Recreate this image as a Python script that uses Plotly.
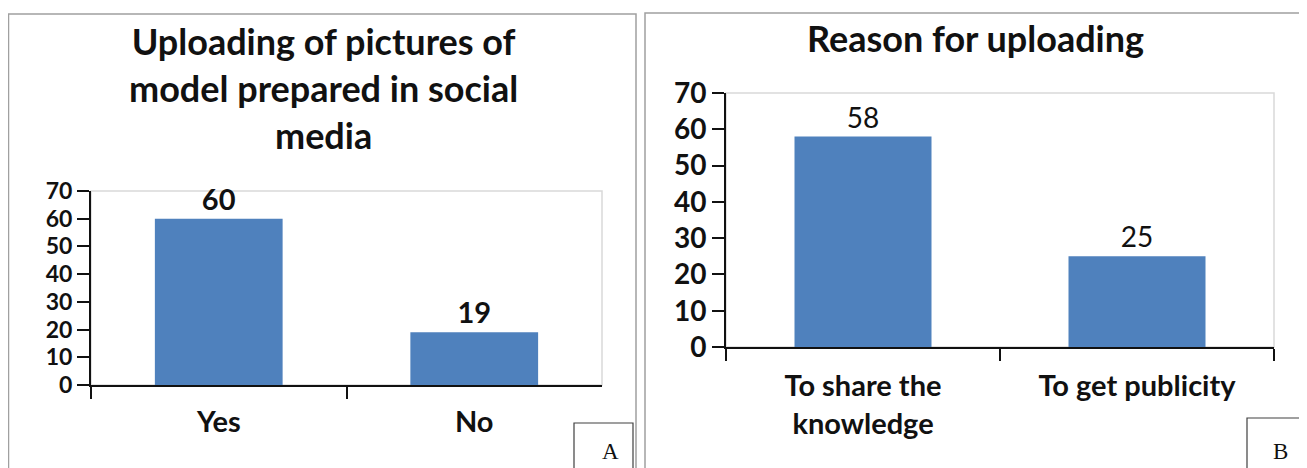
import plotly.graph_objects as go

# The page body has an 8px default margin, so the figure starts at (8, 8)
# inside the 1307x468 window; positions below are window pixels.
OFF = 8
W, H = 1307 - OFF, 468 - OFF

# ---- data ----
cats_a = ["Yes", "No"]
vals_a = [60, 19]
title_a = "Uploading of pictures of<br>model prepared in social<br>media"

cats_b = ["To share the<br>knowledge", "To get publicity"]
vals_b = [58, 25]
title_b = "Reason for uploading"

y_ticks = [0, 10, 20, 30, 40, 50, 60, 70]

BAR = "#4f81bd"
FONT = "Lato"

def px_x(p):
    return (p - OFF) / W

def px_y(p):
    return 1 - (p - OFF) / H

fig = go.Figure()

fig.add_trace(go.Bar(
    x=cats_a, y=vals_a, width=0.5, marker=dict(color=BAR, line=dict(width=0)),
    text=vals_a, textposition="outside", cliponaxis=False,
    textfont=dict(family=FONT, size=29, color="#111", weight="bold"),
    xaxis="x", yaxis="y", showlegend=False, hoverinfo="skip"))

fig.add_trace(go.Bar(
    x=cats_b, y=vals_b, width=0.5, marker=dict(color=BAR, line=dict(width=0)),
    text=vals_b, textposition="outside", cliponaxis=False,
    textfont=dict(family=FONT, size=28, color="#111"),
    xaxis="x2", yaxis="y2", showlegend=False, hoverinfo="skip"))

axis_common = dict(
    showgrid=False, zeroline=False, showline=True, linecolor="#111", linewidth=2,
    ticks="outside", ticklen=12, tickwidth=2, tickcolor="#111", automargin=False,
)

fig.update_layout(
    width=W, height=H,
    margin=dict(l=0, r=0, t=0, b=0, autoexpand=False),
    paper_bgcolor="white", plot_bgcolor="white",
    bargap=0.5,
    xaxis=dict(domain=[px_x(91), px_x(602)], anchor="y", range=[-0.5, 1.5],
               tickson="boundaries", type="category", ticklabelstandoff=10,
               tickfont=dict(family=FONT, size=29, color="#111", weight="bold"),
               **axis_common),
    yaxis=dict(domain=[px_y(385), px_y(191)], anchor="x", range=[0, 70],
               tickvals=y_ticks,
               tickfont=dict(family=FONT, size=23, color="#111", weight="bold"),
               **axis_common),
    xaxis2=dict(domain=[px_x(726), px_x(1274)], anchor="y2", range=[-0.5, 1.5],
                tickson="boundaries", type="category", ticklabelstandoff=12,
                tickfont=dict(family=FONT, size=29, color="#111", weight="bold"),
                **axis_common),
    yaxis2=dict(domain=[px_y(347), px_y(93)], anchor="x2", range=[0, 70],
                tickvals=y_ticks,
                tickfont=dict(family=FONT, size=28, color="#111", weight="bold"),
                **axis_common),
)

shapes = []
# plot-area light borders
for xr, yr in (("x domain", "y domain"), ("x2 domain", "y2 domain")):
    shapes.append(dict(type="rect", xref=xr, yref=yr, x0=0, x1=1, y0=0, y1=1,
                       line=dict(color="#d9d9d9", width=1.5), layer="below"))
# panel borders
shapes.append(dict(type="rect", xref="paper", yref="paper",
                   x0=px_x(8.5), x1=px_x(636), y0=px_y(480), y1=px_y(14),
                   line=dict(color="#a0a0a0", width=1.5)))
shapes.append(dict(type="rect", xref="paper", yref="paper",
                   x0=px_x(645), x1=px_x(1305), y0=px_y(480), y1=px_y(13),
                   line=dict(color="#a0a0a0", width=1.5)))
# label boxes
shapes.append(dict(type="rect", xref="paper", yref="paper",
                   x0=px_x(574), x1=px_x(633), y0=px_y(480), y1=px_y(423),
                   line=dict(color="#404040", width=1.2)))
shapes.append(dict(type="rect", xref="paper", yref="paper",
                   x0=px_x(1247), x1=px_x(1315), y0=px_y(480), y1=px_y(418),
                   line=dict(color="#404040", width=1.2)))
fig.update_layout(shapes=shapes)

annotations = [
    dict(text=title_a, x=px_x(323), y=px_y(88), xref="paper", yref="paper",
         xanchor="center", yanchor="middle", showarrow=False,
         font=dict(family=FONT, size=36, color="#111", weight="bold")),
    dict(text=title_b, x=px_x(975), y=px_y(38), xref="paper", yref="paper",
         xanchor="center", yanchor="middle", showarrow=False,
         font=dict(family=FONT, size=36, color="#111", weight="bold")),
    dict(text="A", x=px_x(610), y=px_y(451), xref="paper", yref="paper",
         xanchor="center", yanchor="middle", showarrow=False,
         font=dict(family="Liberation Serif", size=23, color="#111")),
    dict(text="B", x=px_x(1280), y=px_y(451), xref="paper", yref="paper",
         xanchor="center", yanchor="middle", showarrow=False,
         font=dict(family="Liberation Serif", size=23, color="#111")),
]
fig.update_layout(annotations=annotations)

fig.write_html("out.html")
